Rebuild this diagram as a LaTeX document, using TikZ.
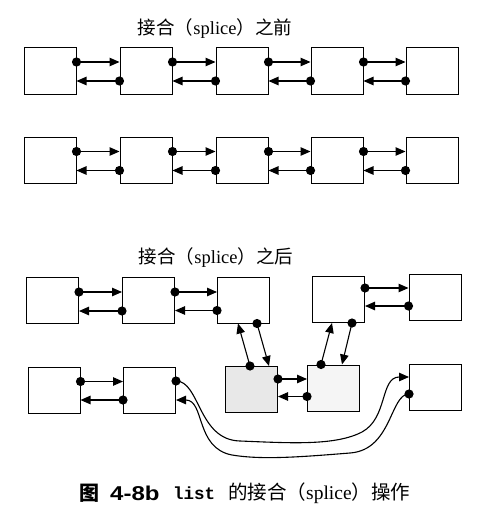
\documentclass[tikz,border=0pt]{standalone}
\usepackage{fontspec}
\setmainfont{Liberation Serif}
\newfontfamily\cjk{Noto Sans CJK SC}
\newfontfamily\hsans[FakeStretch=1.2]{Liberation Sans}
\newfontfamily\mono{Liberation Mono}
\usetikzlibrary{arrows.meta}
\newcommand\pairlink[4]{%
  \draw[link] ([yshift=#3]#1.east) -- ([yshift=#3]#1.east -| #2.west);
  \fill ([yshift=#3]#1.east) circle (4.6pt);
  \draw[link] ([yshift=#4]#2.west) -- ([yshift=#4]#2.west -| #1.east);
  \fill ([yshift=#4]#2.west) circle (4.6pt);}
\begin{document}
\begin{tikzpicture}[x=1pt,y=-1pt,
  box/.style={draw, line width=1pt, minimum width=52pt, minimum height=46pt, inner sep=0pt},
  link/.style={line width=1.1pt, -{Triangle[length=10pt,width=8.5pt]}},
  ttl/.style={font=\fontsize{18.5}{20}\selectfont, inner sep=0pt}]
\useasboundingbox (0,0) rectangle (487,519);

% titles
\node[ttl] (t1) at (215,29) {{\cjk 接合（}splice{\cjk ）之前}};
\node[ttl] (t2) at (216,258) {{\cjk 接合（}splice{\cjk ）之后}};

% before splice
\foreach \i/\x in {1/50,2/146,3/242,4/337,5/432} {
  \node[box] (p\i) at (\x,71) {};
  \node[box] (q\i) at (\x,160.5) {};
}
\foreach \i/\j in {1/2,2/3,3/4,4/5} {
  \pairlink{p\i}{p\j}{9pt}{-10pt}
  \pairlink{q\i}{q\j}{9pt}{-10pt}
}

% after splice
\node[box] (a1) at (52.5,300.5) {};
\node[box] (a2) at (148.5,300.5) {};
\node[box] (a3) at (243.5,300) {};
\node[box] (a4) at (338.5,299.5) {};
\node[box] (a5) at (435,297.5) {};
\node[box] (b1) at (54,390.5) {};
\node[box] (b2) at (149.5,390) {};
\node[box, fill=black!9] (b3) at (251.5,389.5) {};
\node[box, fill=black!4] (b4) at (333.5,388) {};
\node[box] (b5) at (435.5,387.5) {};

\pairlink{a1}{a2}{8.5pt}{-10.5pt}
\pairlink{a2}{a3}{8.5pt}{-10.5pt}
\pairlink{a4}{a5}{11.5pt}{-8.5pt}
\pairlink{b1}{b2}{9pt}{-10pt}
\pairlink{b3}{b4}{10.5pt}{-8.5pt}

% vertical links
\draw[link] ([xshift=13.5pt]a3.south) -- ([xshift=17.5pt]b3.north);
\fill ([xshift=13.5pt]a3.south) circle (4.6pt);
\draw[link] ([xshift=-1.5pt]b3.north) -- ([xshift=-5.5pt]a3.south);
\fill ([xshift=-1.5pt]b3.north) circle (4.6pt);
\draw[link] ([xshift=13.5pt]a4.south) -- ([xshift=8.5pt]b4.north);
\fill ([xshift=13.5pt]a4.south) circle (4.6pt);
\draw[link] ([xshift=-12.5pt]b4.north) -- ([xshift=-6.5pt]a4.south);
\fill ([xshift=-12.5pt]b4.north) circle (4.6pt);

% long curved links
\draw[link] ([yshift=9pt]b2.east) .. controls (200,381) and (198,440) .. (240,441)
  .. controls (290,443) and (335,446) .. (362,432)
  .. controls (388,418) and (380,377) .. ([yshift=10.5pt]b5.west);
\fill ([yshift=9pt]b2.east) circle (4.6pt);
\draw[link] ([yshift=-6.5pt]b5.west) .. controls (390,394) and (392,450) .. (350,453)
  .. controls (300,457) and (262,460) .. (232,455)
  .. controls (195,448) and (205,400) .. ([yshift=-10pt]b2.east);
\fill ([yshift=-6.5pt]b5.west) circle (4.6pt);

% caption
\node[anchor=west, inner sep=0pt, font=\fontsize{20}{22}\selectfont] (cap1) at (79,493) {\cjk\bfseries 图};
\node[anchor=west, inner sep=0pt, font=\fontsize{20}{22}\selectfont] (cap2) at (110,493) {\hsans\bfseries 4-8b};
\node[anchor=west, inner sep=0pt, font=\fontsize{17.5}{20}\selectfont] (cap3) at (173,493) {\mono\bfseries list};
\node[anchor=west, inner sep=0pt, font=\fontsize{19.5}{22}\selectfont] (cap4) at (228,493) {{\cjk 的接合（}splice{\cjk ）操作}};
\end{tikzpicture}
\end{document}
